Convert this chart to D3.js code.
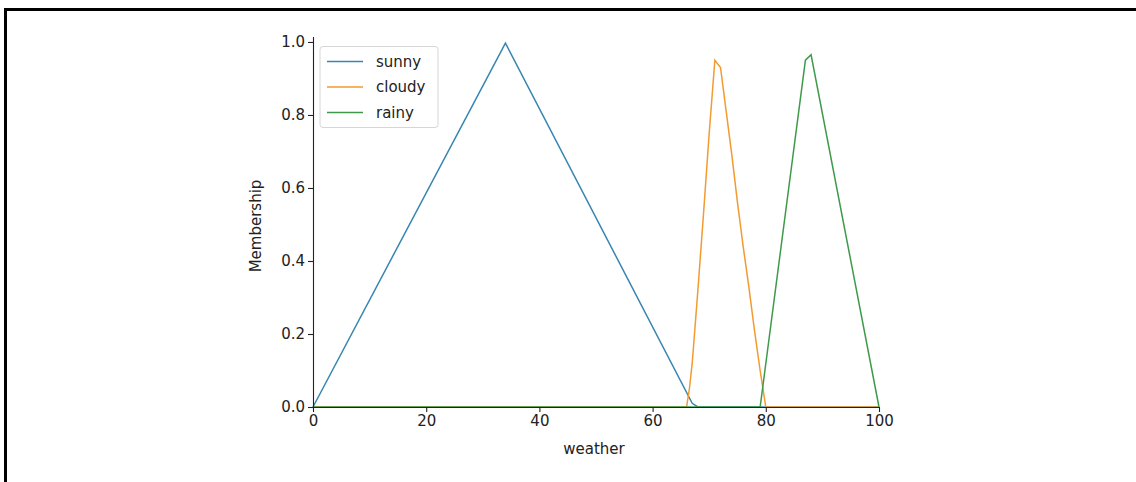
<!DOCTYPE html>
<html>
<head>
<meta charset="utf-8">
<script src="https://cdn.jsdelivr.net/npm/d3@7"></script>
<style>
  body { margin: 0; background: #fff; }
  svg text { font-family: "DejaVu Sans", sans-serif; fill: #222; }
</style>
</head>
<body>
<div id="chart"></div>
<script>
const seriesNames = ["sunny", "cloudy", "rainy"];
const seriesColors = ["#3786b0", "#f39a30", "#3e9a4a"];

// [weather, membership]
const sunny = [[0, 0], [34, 0.997], [67, 0.01], [68, 0], [100, 0]];
const cloudy = [[0, 0], [66, 0], [66.5, 0.05], [67, 0.12], [68, 0.32], [69, 0.53], [70, 0.75], [71, 0.95],
  [72, 0.93], [73, 0.81], [74, 0.69], [75, 0.56], [76, 0.44], [77, 0.33], [78, 0.21],
  [79, 0.1], [80, 0], [100, 0]];
const rainy = [[0, 0], [79, 0], [87, 0.95], [88, 0.965], [100, 0]];

const xTicks = [0, 20, 40, 60, 80, 100];
const yTicks = [0, 0.2, 0.4, 0.6, 0.8, 1.0];

const W = 1136, H = 482;
const svg = d3.select("#chart").append("svg")
    .attr("width", W)
    .attr("height", H);

// page frame (only top and left edges visible)
svg.append("rect").attr("x", 4).attr("y", 8).attr("width", 1200).attr("height", 3).attr("fill", "#000");
svg.append("rect").attr("x", 4).attr("y", 8).attr("width", 3).attr("height", 600).attr("fill", "#000");

const x = d3.scaleLinear().domain([0, 100]).range([313, 879]);
const y = d3.scaleLinear().domain([0, 1.015]).range([407, 36.5]);

const line = d3.line()
    .x(d => x(d[0]))
    .y(d => y(d[1]));

[sunny, cloudy, rainy].forEach((data, i) => {
    svg.append("path")
        .datum(data)
        .attr("fill", "none")
        .attr("stroke", seriesColors[i])
        .attr("stroke-width", 1.5)
        .attr("d", line);
});

const yAxis = svg.append("g")
    .attr("transform", `translate(313,0)`)
    .call(d3.axisLeft(y).tickValues(yTicks).tickFormat(d3.format(".1f")).tickSize(5).tickPadding(3).tickSizeOuter(0));

const xAxis = svg.append("g")
    .attr("transform", `translate(0,407)`)
    .call(d3.axisBottom(x).tickValues(xTicks).tickSize(5).tickPadding(3).tickSizeOuter(0));

[yAxis, xAxis].forEach(g => {
    g.selectAll("path, line").attr("stroke", "#222").attr("stroke-width", 1.1);
    g.selectAll("text").attr("font-size", 15).attr("font-family", "DejaVu Sans").attr("fill", "#222");
});

svg.append("text")
    .attr("x", 594).attr("y", 454)
    .attr("text-anchor", "middle")
    .attr("font-size", 15)
    .text("weather");

svg.append("text")
    .attr("transform", "translate(261,226) rotate(-90)")
    .attr("text-anchor", "middle")
    .attr("font-size", 15)
    .text("Membership");

// legend
const legend = svg.append("g");
legend.append("rect")
    .attr("x", 320).attr("y", 46.5).attr("width", 118).attr("height", 81)
    .attr("rx", 3)
    .attr("fill", "#fff").attr("fill-opacity", 0.8)
    .attr("stroke", "#d6d6d6");
seriesNames.forEach((name, i) => {
    const ly = 61.5 + i * 25.5;
    legend.append("line")
        .attr("x1", 327).attr("x2", 363)
        .attr("y1", ly).attr("y2", ly)
        .attr("stroke", seriesColors[i]).attr("stroke-width", 1.5);
    legend.append("text")
        .attr("x", 376).attr("y", ly)
        .attr("dy", "0.35em")
        .attr("font-size", 15)
        .text(name);
});
</script>
</body>
</html>
